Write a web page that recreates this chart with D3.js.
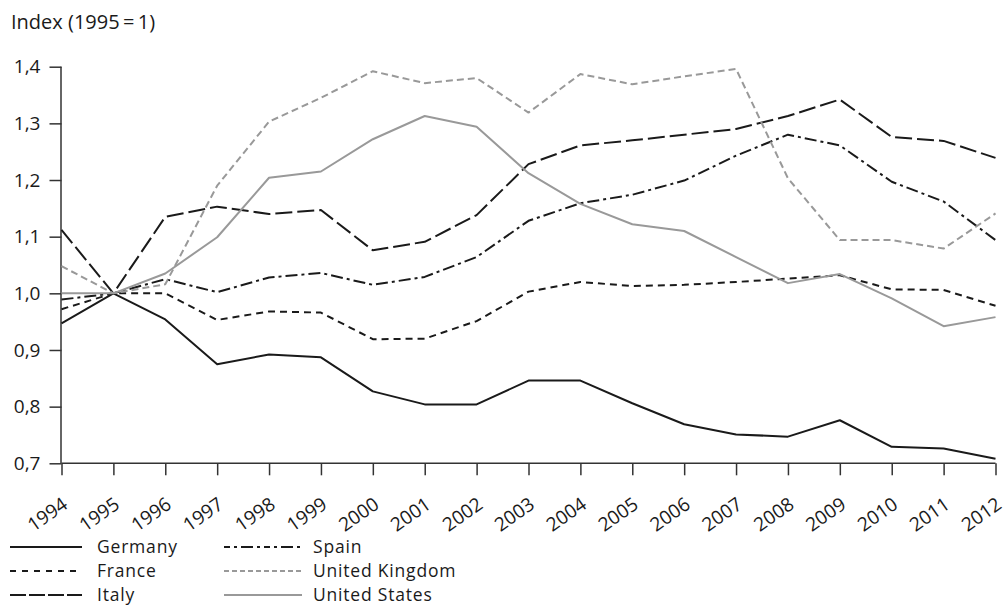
<!DOCTYPE html>
<html><head><meta charset="utf-8">
<script src="https://cdn.jsdelivr.net/npm/d3@7"></script>
<style>body{margin:0;background:#fff}svg{display:block}text{font-family:"Open Sans","Noto Sans",sans-serif;fill:#1a1a1a}</style>
</head><body>
<svg id="c" width="1006" height="615"></svg>
<script>
const years = [1994,1995,1996,1997,1998,1999,2000,2001,2002,2003,2004,2005,2006,2007,2008,2009,2010,2011,2012];
const germany = [0.947,1.0,0.954,0.875,0.892,0.887,0.827,0.804,0.804,0.846,0.846,0.806,0.769,0.751,0.747,0.776,0.729,0.726,0.708];
const france  = [0.972,1.0,1.0,0.953,0.968,0.966,0.919,0.920,0.951,1.003,1.020,1.013,1.015,1.020,1.026,1.032,1.007,1.006,0.978];
const italy   = [1.112,1.0,1.135,1.153,1.140,1.147,1.076,1.091,1.138,1.228,1.261,1.270,1.280,1.290,1.313,1.342,1.276,1.269,1.239];
const spain   = [0.989,1.0,1.025,1.002,1.028,1.036,1.015,1.029,1.064,1.128,1.159,1.174,1.199,1.243,1.280,1.261,1.197,1.162,1.094];
const uk      = [1.048,1.0,1.016,1.19,1.303,1.345,1.392,1.371,1.380,1.319,1.387,1.369,1.383,1.396,1.203,1.094,1.094,1.079,1.141];
const us      = [1.0,1.0,1.035,1.099,1.204,1.215,1.272,1.313,1.294,1.212,1.158,1.122,1.110,1.064,1.018,1.034,0.991,0.942,0.958];
const yTicks = [0.7,0.8,0.9,1.0,1.1,1.2,1.3,1.4];
const seriesNames = ["Germany","France","Italy","Spain","United Kingdom","United States"];

const styles = {
  "Germany":{c:"#1a1a1a",d:null},
  "France":{c:"#1a1a1a",d:"7,5"},
  "Italy":{c:"#1a1a1a",d:"17,5"},
  "Spain":{c:"#1a1a1a",d:"12,4,3,4"},
  "United Kingdom":{c:"#999",d:"7,4"},
  "United States":{c:"#999",d:null}
};
const legDash = {
  "Germany":null,
  "France":"6,6",
  "Italy":"16,3",
  "Spain":"6,4,3,4,12,4,3,4",
  "United Kingdom":"5,3",
  "United States":null
};
const data = {"Germany":germany,"France":france,"Italy":italy,"Spain":spain,"United Kingdom":uk,"United States":us};

const svg = d3.select("#c");
const x = d3.scaleLinear().domain([1994,2012]).range([61.5,995.5]);
const y = d3.scaleLinear().domain([0.7,1.4]).range([463.3,66.7]);

svg.append("text").attr("x",11).attr("y",29).attr("font-size",20).text("Index (1995\u2009=\u20091)");

const fmt = d => d.toFixed(1).replace(".",",");
const ya = svg.append("g").attr("transform","translate(61.5,0)")
  .call(d3.axisLeft(y).tickValues(yTicks).tickFormat(fmt).tickSize(12).tickPadding(9));
ya.select(".domain").attr("d","M-0.5,"+y(1.4)+"V"+y(0.7));
ya.selectAll("line,path").attr("stroke","#333").attr("stroke-width",1.5);
ya.selectAll("text").attr("font-size",19).attr("font-family","Open Sans, Noto Sans, sans-serif").attr("fill","#1a1a1a");

const xa = svg.append("g").attr("transform","translate(0,463.3)")
  .call(d3.axisBottom(x).tickValues(years).tickFormat(d3.format("d")).tickSize(12));
xa.select(".domain").attr("d","M"+x(1994)+",0H"+x(2012));
xa.selectAll("line,path").attr("stroke","#333").attr("stroke-width",1.5);
xa.selectAll("text").attr("font-size",19).attr("font-family","Open Sans, Noto Sans, sans-serif").attr("fill","#1a1a1a")
  .attr("text-anchor","end").attr("dy",0).attr("y",0)
  .attr("transform","translate(7,44) rotate(-35)");

const line = d3.line().x((d,i)=>x(years[i])).y(d=>y(d));
seriesNames.forEach(n=>{
  svg.append("path").datum(data[n]).attr("d",line).attr("fill","none")
    .attr("stroke",styles[n].c).attr("stroke-width",2)
    .attr("stroke-dasharray",styles[n].d).attr("stroke-linejoin","round");
});

// legend
const legPos = [[10,82,97,553],[10,82,97,577],[10,82,97,601],[224,302,313,553],[224,302,313,577],[224,302,313,601]];
seriesNames.forEach((n,i)=>{
  const p = legPos[i];
  svg.append("line").attr("x1",p[0]).attr("x2",p[1]).attr("y1",p[3]-6).attr("y2",p[3]-6)
    .attr("stroke",styles[n].c).attr("stroke-width",2).attr("stroke-dasharray",legDash[n]);
  svg.append("text").attr("x",p[2]).attr("y",p[3]).attr("font-size",17.5).attr("letter-spacing",0.8).text(n);
});
</script>
</body></html>
